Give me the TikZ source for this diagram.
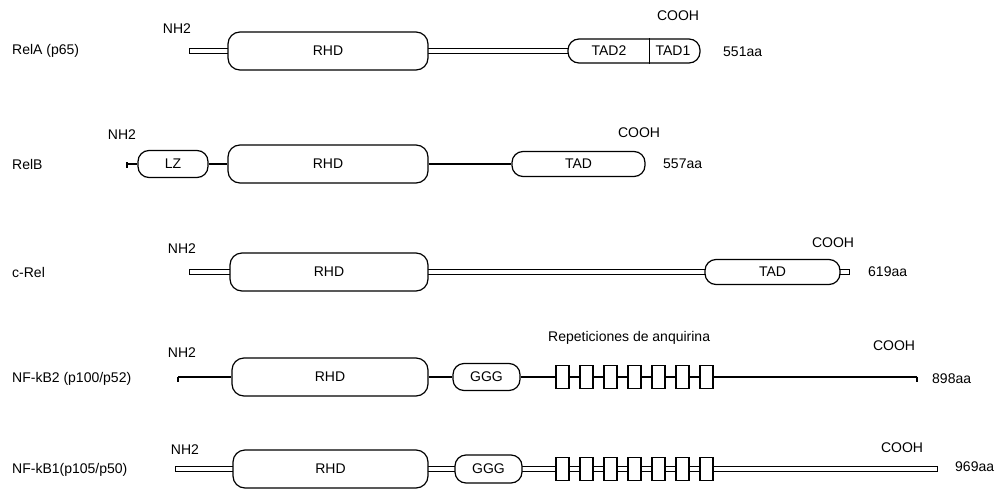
\documentclass[tikz,border=0pt]{standalone}
\usepackage{fontspec}
\setmainfont{Liberation Sans}
\usetikzlibrary{calc}
\pgfdeclarelayer{bg}
\pgfsetlayers{bg,main}
\begin{document}
\begin{tikzpicture}[x=1pt,y=-1pt,
  every node/.style={font=\fontsize{14}{16}\selectfont, inner sep=0pt},
  dom/.style={draw, line width=1.2pt, rounded corners=12pt, fill=white, minimum height=38pt},
  smalldom/.style={draw, line width=1.2pt, rounded corners=11pt, fill=white, minimum height=25pt},
  rep/.style={draw, line width=1.2pt, fill=white, minimum width=13pt, minimum height=23pt},
  sline/.style={line width=1.2pt},
  dline/.style={line width=1.2pt, double, double distance=3.3pt, line cap=rect},
  lbl/.style={anchor=west}]
\useasboundingbox (0,0) rectangle (1001,490);

% ---------- Row 1: RelA ----------
\node[lbl] (l1) at (12,51) {RelA (p65)};
\node (n1) at (177,29) {NH2};
\coordinate (s1) at (192,51);
\node[dom, minimum width=200pt] (rhd1) at (328,51) {RHD};
\node[smalldom, minimum width=132pt, minimum height=24pt] (tad1) at (634,51) {};
\node (t12) at (609,51) {TAD2};
\node (t11) at (673,51) {TAD1};
\draw[sline] ($(tad1.north west)!0.614!(tad1.north east)$) -- ($(tad1.south west)!0.614!(tad1.south east)$);
\node (c1) at (678,16) {COOH};
\node[lbl] (a1) at (723,52) {551aa};

% ---------- Row 2: RelB ----------
\node[lbl] (l2) at (12,164) {RelB};
\node (n2) at (122,135) {NH2};
\coordinate (s2) at (127,164);
\node[smalldom, minimum width=70pt, minimum height=27pt] (lz2) at (173,164) {LZ};
\node[dom, minimum width=200pt] (rhd2) at (328,164) {RHD};
\node[smalldom, minimum width=133pt] (tad2) at (578.5,164) {TAD};
\node (c2) at (639,133) {COOH};
\node[lbl] (a2) at (663,164) {557aa};

% ---------- Row 3: c-Rel ----------
\node[lbl] (l3) at (12,272) {c-Rel};
\node (n3) at (182,249) {NH2};
\coordinate (s3) at (192,272);
\node[dom, minimum width=198pt] (rhd3) at (329,272) {RHD};
\node[smalldom, minimum width=135pt] (tad3) at (772.5,272) {TAD};
\coordinate (e3) at (847,272);
\node (c3) at (833,243) {COOH};
\node[lbl] (a3) at (868,272) {619aa};

% ---------- Row 4: NF-kB2 ----------
\node[lbl] (l4) at (12,379) {NF-kB2 (p100/p52)};
\node (n4) at (182,353) {NH2};
\coordinate (s4) at (178,377);
\node[dom, minimum width=196pt] (rhd4) at (330,377) {RHD};
\node[smalldom, minimum width=67pt, minimum height=27pt] (ggg4) at (486.5,377) {GGG};
\foreach \i in {0,...,6} \node[rep] (r4\i) at (562.5+24*\i,377) {};
\coordinate (e4) at (917,377);
\node[lbl] (rep4) at (548,338) {Repeticiones de anquirina};
\node (c4) at (894,346) {COOH};
\node[lbl] (a4) at (932,379) {898aa};

% ---------- Row 5: NF-kB1 ----------
\node[lbl] (l5) at (12,470) {NF-kB1(p105/p50)};
\node (n5) at (185,450) {NH2};
\coordinate (s5) at (178,469);
\node[dom, minimum width=195pt] (rhd5) at (330.5,469) {RHD};
\node[smalldom, minimum width=67pt, minimum height=28pt] (ggg5) at (488.5,469) {GGG};
\foreach \i in {0,...,6} \node[rep] (r5\i) at (562.5+24*\i,469) {};
\coordinate (e5) at (935,469);
\node (c5) at (902,448) {COOH};
\node[lbl] (a5) at (955,467) {969aa};

% ---------- connectors (behind the domains) ----------
\begin{pgfonlayer}{bg}
  \fill[white] (0,0) rectangle (1001,490);

  \draw[dline] (s1) -- (rhd1.west);
  \draw[dline] (rhd1.east) -- (tad1.west);

  \draw[sline] (s2) -- (lz2.west);
  \draw[sline] ([yshift=2pt]s2) -- ([yshift=-4pt]s2);
  \draw[sline] (lz2.east) -- (rhd2.west);
  \draw[sline] (rhd2.east) -- (tad2.west);

  \draw[dline] (s3) -- (rhd3.west);
  \draw[dline] (rhd3.east) -- (tad3.west);
  \draw[dline] (tad3.east) -- (e3);

  \draw[sline] (s4) -- (rhd4.west);
  \draw[sline] ([yshift=0.5pt]s4) -- ([yshift=-5pt]s4);
  \draw[sline] (rhd4.east) -- (ggg4.west);
  \draw[sline] (ggg4.east) -- (r40.west);
  \foreach \i/\j in {0/1,1/2,2/3,3/4,4/5,5/6} \draw[sline] (r4\i.east) -- (r4\j.west);
  \draw[sline] (r46.east) -- (e4);
  \draw[sline] ([yshift=0.5pt]e4) -- ([yshift=-5pt]e4);

  \draw[dline] (s5) -- (rhd5.west);
  \draw[dline] (rhd5.east) -- (ggg5.west);
  \draw[dline] (ggg5.east) -- (r50.west);
  \foreach \i/\j in {0/1,1/2,2/3,3/4,4/5,5/6} \draw[dline] (r5\i.east) -- (r5\j.west);
  \draw[dline] (r56.east) -- (e5);
\end{pgfonlayer}
\end{tikzpicture}
\end{document}
